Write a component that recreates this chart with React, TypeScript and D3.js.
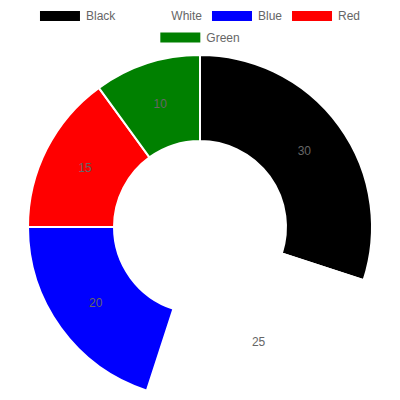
import React, { useMemo } from "react";
import * as d3 from "d3";

const categories = ["Black", "White", "Blue", "Red", "Green"];
const values = [30, 25, 20, 15, 10];
const colors = ["#000000", "#ffffff", "#0000ff", "#ff0000", "#008000"];

const W = 400;
const H = 400;
const FONT = "'Liberation Sans', Arial, Helvetica, sans-serif";

function measure(text: string, size: number): number {
  if (typeof document === "undefined") return text.length * size * 0.55;
  const c = document.createElement("canvas");
  const ctx = c.getContext("2d");
  if (!ctx) return text.length * size * 0.55;
  ctx.font = `${size}px ${FONT}`;
  return ctx.measureText(text).width;
}

export default function App() {
  const cx = W / 2;
  const cy = 227;
  const outerR = 172;
  const innerR = 86;

  const arcs = useMemo(
    () =>
      d3
        .pie<number>()
        .sort(null)
        .startAngle(0)
        .endAngle(2 * Math.PI)(values),
    []
  );
  const arcGen = d3.arc<d3.PieArcDatum<number>>().innerRadius(innerR).outerRadius(outerR);
  const labelArc = d3
    .arc<d3.PieArcDatum<number>>()
    .innerRadius((innerR + outerR) / 2)
    .outerRadius((innerR + outerR) / 2);

  // legend layout (Chart.js-like)
  const fontSize = 12;
  const boxW = 40;
  const boxH = 10;
  const pad = 10;
  const maxW = W - 20;
  const items = categories.map((c, i) => ({
    label: c,
    color: colors[i],
    w: boxW + fontSize / 2 + measure(c, fontSize),
  }));
  const rows: { label: string; color: string; w: number }[][] = [[]];
  let rowW = 0;
  items.forEach((it) => {
    const cur = rows[rows.length - 1];
    const add = (cur.length ? pad : 0) + it.w;
    if (cur.length && rowW + add > maxW) {
      rows.push([it]);
      rowW = it.w;
    } else {
      cur.push(it);
      rowW += add;
    }
  });
  const rowY = [16, 37.5];

  return (
    <svg
      width={W}
      height={H}
      style={{ position: "absolute", left: 0, top: 0, background: "#fff" }}
      fontFamily={FONT}
    >
      <g transform={`translate(${cx},${cy})`}>
        {arcs.map((a, i) => (
          <path key={i} d={arcGen(a) || ""} fill={colors[i]} stroke="#fff" strokeWidth={2} />
        ))}
        {arcs.map((a, i) => {
          const [x, y] = labelArc.centroid(a);
          return (
            <text
              key={"l" + i}
              x={x}
              y={y}
              textAnchor="middle"
              dominantBaseline="central"
              fontSize={12}
              fill="#666"
            >
              {values[i]}
            </text>
          );
        })}
      </g>
      <g>
        {rows.map((row, ri) => {
          const total = row.reduce((s, it) => s + it.w, 0) + pad * (row.length - 1);
          let x = (W - total) / 2;
          const y = rowY[ri] ?? 16 + ri * 21.5;
          return row.map((it) => {
            const x0 = x;
            x += it.w + pad;
            return (
              <g key={it.label}>
                <rect x={x0} y={y - boxH / 2} width={boxW} height={boxH} fill={it.color} />
                <text
                  x={x0 + boxW + fontSize / 2}
                  y={y}
                  dominantBaseline="central"
                  fontSize={fontSize}
                  fill="#666"
                >
                  {it.label}
                </text>
              </g>
            );
          });
        })}
      </g>
    </svg>
  );
}
